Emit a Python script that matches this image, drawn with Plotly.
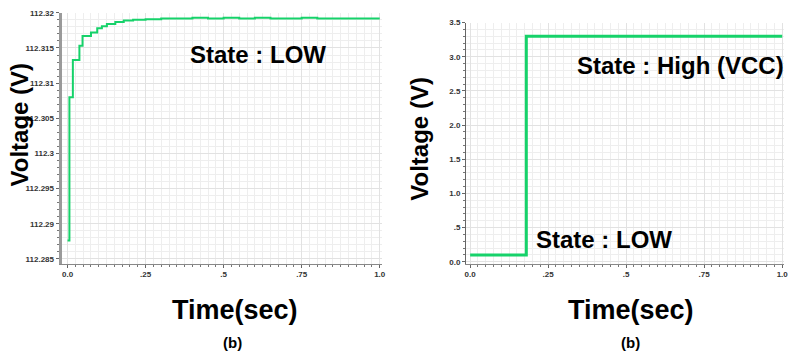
import plotly.graph_objects as go

# ---- data ----
time_left = [0.0, 0.006, 0.017, 0.038, 0.048, 0.075, 0.095, 0.11, 0.126, 0.153, 0.18,
             0.21, 0.25, 0.30, 0.35, 0.40, 0.45, 0.50, 0.55, 0.60, 0.65, 0.70, 0.75,
             0.80, 0.85, 0.90, 0.95, 1.0]
volt_left = [112.2876, 112.3080, 112.3133, 112.3153, 112.3167, 112.3172, 112.3178,
             112.3181, 112.3184, 112.3187, 112.3189, 112.3190, 112.3191, 112.3192,
             112.3192, 112.3193, 112.3192, 112.3193, 112.3192, 112.3193, 112.3192,
             112.3192, 112.3193, 112.3192, 112.3192, 112.3192, 112.3192, 112.3192]

time_right = [0.0, 0.18, 1.0]
volt_right = [0.1, 3.3, 3.3]

x_tickvals = [0, 0.25, 0.5, 0.75, 1.0]
x_ticktext = ["0.0", ".25", ".5", ".75", "1.0"]
yl_tickvals = [112.285, 112.29, 112.295, 112.3, 112.305, 112.31, 112.315, 112.32]
yl_ticktext = ["112.285", "112.29", "112.295", "112.3", "112.305", "112.31", "112.315", "112.32"]
yr_tickvals = [0, 0.5, 1.0, 1.5, 2.0, 2.5, 3.0, 3.5]
yr_ticktext = ["0.0", ".5", "1.0", "1.5", "2.0", "2.5", "3.0", "3.5"]

W, H = 800, 357
GREEN = "#16d26a"
BOLD = "Liberation Sans, Arial, sans-serif"


def px(x):
    return x / W


def py(y):
    return 1 - y / H


fig = go.Figure()
fig.add_trace(go.Scatter(x=time_left, y=volt_left, mode="lines", line_shape="hv",
                         line=dict(color=GREEN, width=2), xaxis="x", yaxis="y"))
fig.add_trace(go.Scatter(x=time_right, y=volt_right, mode="lines", line_shape="hv",
                         line=dict(color=GREEN, width=3), xaxis="x2", yaxis="y2"))

tickfont = dict(family=BOLD, size=8, color="#333333", weight="bold")
grid = dict(showgrid=True, gridcolor="#e2e2e2", gridwidth=1, zeroline=False,
            ticks="outside", ticklen=3, tickcolor="#666666", tickfont=tickfont)

fig.update_layout(
    width=W, height=H, margin=dict(l=0, r=0, t=0, b=0),
    paper_bgcolor="white", plot_bgcolor="white", showlegend=False,
    xaxis=dict(domain=[px(61), px(383)], range=[-0.019, 1.006], anchor="y",
               tickvals=x_tickvals, ticktext=x_ticktext,
               showline=True, linecolor="#888888", linewidth=1,
               minor=dict(dtick=0.025, tick0=0, showgrid=True, gridcolor="#eeeeee",
                          ticks="outside", ticklen=2, tickcolor="#777777"),
               **grid),
    yaxis=dict(domain=[py(265), py(9)], range=[112.2843, 112.32], anchor="x",
               tickvals=yl_tickvals, ticktext=yl_ticktext,
               showline=True, linecolor="#9a9a9a", linewidth=3,
               minor=dict(dtick=0.001, tick0=112.285, showgrid=True, gridcolor="#eeeeee",
                          ticks="outside", ticklen=2, tickcolor="#777777"),
               **grid),
    xaxis2=dict(domain=[px(468), px(788)], range=[-0.013, 1.006], anchor="y2",
                tickvals=x_tickvals, ticktext=x_ticktext,
                showline=True, linecolor="#888888", linewidth=1,
                minor=dict(dtick=0.025, tick0=0, showgrid=True, gridcolor="#eeeeee",
                           ticks="outside", ticklen=2, tickcolor="#777777"),
                **grid),
    yaxis2=dict(domain=[py(265), py(19)], range=[-0.03, 3.5], anchor="x2",
                tickvals=yr_tickvals, ticktext=yr_ticktext,
                showline=True, linecolor="#666666", linewidth=1,
                minor=dict(dtick=0.1, tick0=0, showgrid=True, gridcolor="#eeeeee",
                           ticks="outside", ticklen=2, tickcolor="#777777"),
                **grid),
)

big = dict(family=BOLD, size=24, color="black", weight="bold")
title_font = dict(family=BOLD, size=27, color="black", weight="bold")
vfont = dict(family=BOLD, size=24, color="black", weight="bold")
bfont = dict(family=BOLD, size=15, color="black", weight="bold")

ann = [
    dict(text="State : LOW", x=px(259), y=py(52), font=big),
    dict(text="State : High (VCC)", x=px(684), y=py(63), font=big),
    dict(text="State : LOW", x=px(607), y=py(240), font=big),
    dict(text="Time(sec)", x=px(235), y=py(312), font=title_font),
    dict(text="Time(sec)", x=px(634), y=py(312), font=title_font),
    dict(text="(b)", x=px(233), y=py(345), font=bfont),
    dict(text="(b)", x=px(633), y=py(345), font=bfont),
    dict(text="Voltage (V)", x=px(19), y=py(123), font=vfont, textangle=-90),
    dict(text="Voltage (V)", x=px(421), y=py(137), font=vfont, textangle=-90),
]
for a in ann:
    fig.add_annotation(xref="paper", yref="paper", showarrow=False,
                       xanchor="center", yanchor="middle", **a)

fig.write_html("out.html", config={"displayModeBar": False},
               post_script="document.body.style.margin='0';document.body.style.overflow='hidden';")
